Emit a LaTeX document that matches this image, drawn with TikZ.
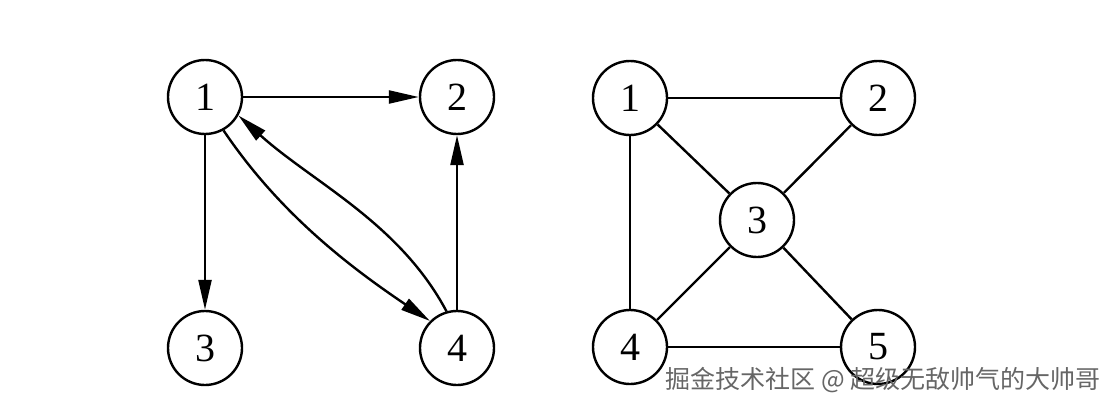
\documentclass[tikz,border=0pt]{standalone}
\usepackage{fontspec}
\setmainfont{Liberation Serif}
\newfontfamily\cjk{Noto Sans CJK SC}
\usetikzlibrary{arrows.meta}

\begin{document}
\begin{tikzpicture}[x=1pt,y=-1pt,line width=2.4pt,
    v/.style={draw,circle,minimum size=74pt,inner sep=0pt,font=\fontsize{40}{44}\selectfont},
    arc/.style={-{Triangle[length=30pt,width=13pt]}}]
                \useasboundingbox (0,0) rectangle (1115,409);
                % directed graph
                \node[v] (a1) at (205,97)  {1};
                \node[v] (a2) at (457,97)  {2};
                \node[v] (a3) at (205,348) {3};
                \node[v] (a4) at (457,348) {4};

                \draw[arc] (a1) -- (a2);
                \draw[arc] (a1) -- (a3);
                \draw[arc] (a4) -- (a2);
                \draw[arc] (a1.-61) to[out=-56,in=146,looseness=.9] (a4.135);
                \draw[arc] (a4.106) to[out=118,in=-42,looseness=.9] (a1.-29);

                % undirected graph
                \node[v] (b1) at (630,98)  {1};
                \node[v] (b2) at (878,98)  {2};
                \node[v] (b3) at (757,220) {3};
                \node[v] (b4) at (630,347) {4};
                \node[v] (b5) at (878,347) {5};

                \draw (b1) -- (b2);
                \draw (b1) -- (b3);
                \draw (b2) -- (b3);
                \draw (b1) -- (b4);
                \draw (b3) -- (b4);
                \draw (b3) -- (b5);
                \draw (b4) -- (b5);

                \node[text=black!60,font=\cjk\fontsize{25}{28}\selectfont] (mark) at (883,380)
                  {掘金技术社区 @ 超级无敌帅气的大帅哥};
             \end{tikzpicture}
\end{document}
